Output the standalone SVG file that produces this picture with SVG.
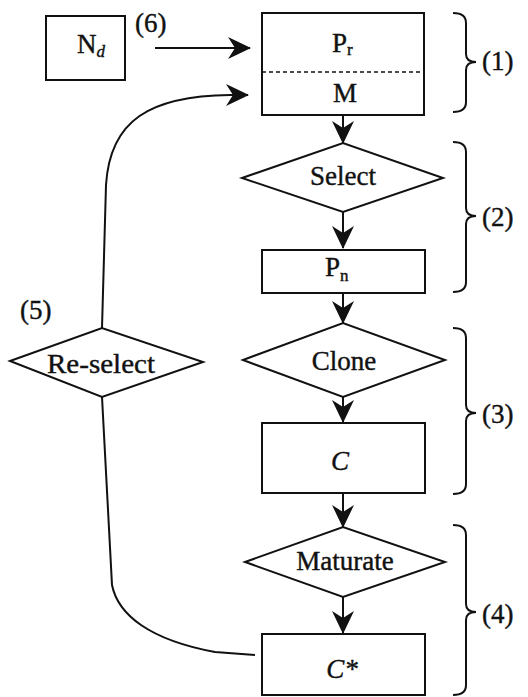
<svg xmlns="http://www.w3.org/2000/svg" width="528" height="697" viewBox="0 0 528 697">
  <defs>
    <marker id="head" markerUnits="userSpaceOnUse" markerWidth="24" markerHeight="24" refX="22" refY="11" orient="auto">
      <path d="M0,0 L23,11 L0,22 L7,11 Z" fill="#111"/>
    </marker>
    <style>
      .box { fill: #fff; stroke: #111; stroke-width: 2; }
      .wire { fill: none; stroke: #111; stroke-width: 2; }
      .brace { fill: none; stroke: #111; stroke-width: 2; }
      .lbl { font-family: "Liberation Serif", "Times New Roman", serif; font-size: 27px; fill: #111; stroke: #111; stroke-width: 0.4; }
      .mid { text-anchor: middle; }
      .sub { font-size: 17px; }
      .it { font-style: italic; }
    </style>
  </defs>
  <rect width="528" height="697" fill="#fff"/>

  <!-- connectors -->
  <g id="connectors">
    <line class="wire" x1="155" y1="48" x2="250" y2="48" marker-end="url(#head)"/>
    <path class="wire" d="M102,328 L106,185 C110,120 150,96 230,95 L248,95" marker-end="url(#head)"/>
    <path class="wire" d="M102,397 L112,585 C118,615 150,640 215,652 L255,655"/>
    <line class="wire" x1="343" y1="115" x2="343" y2="143" marker-end="url(#head)"/>
    <line class="wire" x1="343" y1="212" x2="343" y2="248" marker-end="url(#head)"/>
    <line class="wire" x1="343" y1="293" x2="343" y2="323" marker-end="url(#head)"/>
    <line class="wire" x1="343" y1="397" x2="343" y2="422" marker-end="url(#head)"/>
    <line class="wire" x1="343" y1="493" x2="343" y2="527" marker-end="url(#head)"/>
    <line class="wire" x1="343" y1="597" x2="343" y2="633" marker-end="url(#head)"/>
  </g>

  <!-- new antibodies -->
  <g id="node-nd">
    <rect class="box" x="46" y="16" width="79" height="64"/>
    <text class="lbl" x="77" y="53">N<tspan class="sub it" dy="4">d</tspan></text>
  </g>

  <!-- repertoire and memory -->
  <g id="node-pool">
    <rect class="box" x="262" y="13" width="162" height="102"/>
    <line x1="262" y1="72" x2="424" y2="72" stroke="#111" stroke-width="1.5" stroke-dasharray="4,3"/>
    <text class="lbl" x="332" y="52">P<tspan class="sub" dy="3">r</tspan></text>
    <text class="lbl mid" x="345" y="102">M</text>
  </g>

  <g id="node-select">
    <polygon class="box" points="242,178 343,143 443,178 343,212"/>
    <text class="lbl mid" x="343" y="185">Select</text>
  </g>

  <g id="node-pn">
    <rect class="box" x="262" y="250" width="163" height="43"/>
    <text class="lbl" x="325" y="276">P<tspan class="sub" dy="5">n</tspan></text>
  </g>

  <g id="node-clone">
    <polygon class="box" points="243,360 343,323 445,360 343,397"/>
    <text class="lbl mid" x="344" y="370">Clone</text>
  </g>

  <g id="node-c">
    <rect class="box" x="262" y="423" width="163" height="70"/>
    <text class="lbl it mid" x="340" y="470">C</text>
  </g>

  <g id="node-maturate">
    <polygon class="box" points="245,562 343,527 445,562 343,597"/>
    <text class="lbl mid" x="345" y="570">Maturate</text>
  </g>

  <g id="node-cstar">
    <rect class="box" x="262" y="634" width="163" height="61"/>
    <text class="lbl it mid" x="342" y="678">C*</text>
  </g>

  <g id="node-reselect">
    <polygon class="box" points="10,361 102,328 203,362 102,397"/>
    <text class="lbl mid" x="101" y="373" textLength="108" lengthAdjust="spacingAndGlyphs">Re-select</text>
  </g>

  <!-- step labels -->
  <g id="steps">
    <text class="lbl" x="135" y="32">(6)</text>
    <text class="lbl" x="20" y="319">(5)</text>
    <path class="brace" d="M453,13 Q466,13 466,23 L466,54 Q466,62 476,62 Q466,62 466,70 L466,102 Q466,112 453,112"/>
    <text class="lbl" x="482" y="70">(1)</text>
    <path class="brace" d="M453,142 Q466,142 466,152 L466,208 Q466,216 476,216 Q466,216 466,224 L466,282 Q466,292 453,292"/>
    <text class="lbl" x="482" y="226">(2)</text>
    <path class="brace" d="M453,328 Q466,328 466,338 L466,405 Q466,413 476,413 Q466,413 466,421 L466,484 Q466,494 453,494"/>
    <text class="lbl" x="482" y="423">(3)</text>
    <path class="brace" d="M453,525 Q466,525 466,535 L466,604 Q466,612 476,612 Q466,612 466,620 L466,685 Q466,695 453,695"/>
    <text class="lbl" x="482" y="623">(4)</text>
  </g>
</svg>
